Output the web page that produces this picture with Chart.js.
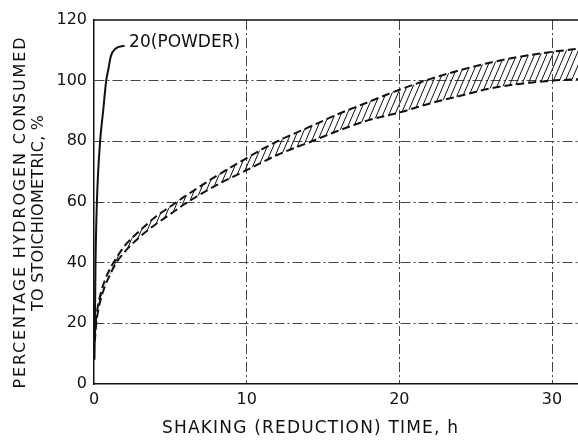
<!DOCTYPE html>
<html>
<head>
<meta charset="utf-8">
<script src="https://cdn.jsdelivr.net/npm/chart.js@4/dist/chart.umd.min.js"></script>
<style>
  html, body { margin: 0; padding: 0; background: #fff; }
  #wrap { width: 578px; height: 441px; }
</style>
</head>
<body>
<div id="wrap"><canvas id="chart" width="578" height="441"></canvas></div>
<script>
// powder sample (curve "20")
const powderTime = [0.03, 0.06, 0.1, 0.19, 0.4, 0.6, 0.8, 0.95, 1.1, 1.4, 2.0];
const powderPct = [8, 20, 40, 60, 80, 90, 100, 104, 108, 110.5, 111.5];

// hatched band: upper and lower edges
const bandTime = [0.05, 0.15, 0.35, 0.7, 1, 1.4, 2, 3, 4, 5, 6, 8, 10, 12, 14, 16, 18, 20, 22, 24, 26, 28, 30, 31.7];
const bandUpper = [16, 22, 28, 34, 37.5, 41, 45.5, 50.5, 55, 58.5, 62, 68.5, 74.5, 80, 84.5, 89, 93, 97, 100.5, 103.5, 106, 108, 109.5, 110.5];
const bandLower = [14, 20, 26, 32, 35.5, 39.5, 43.5, 48.5, 52.5, 56, 59.5, 65.5, 70.5, 75.5, 79.5, 83.5, 87, 89.5, 92.5, 95, 97.5, 99, 100, 100.5];

const yTicks = [0, 20, 40, 60, 80, 100, 120];
const xTicks = [0, 10, 20, 30];

const powderLabel = '20(POWDER)';
const xTitle = 'SHAKING (REDUCTION) TIME, h';
const yTitle1 = 'PERCENTAGE HYDROGEN CONSUMED';
const yTitle2 = 'TO STOICHIOMETRIC, %';

const toPoints = (xs, ys) => xs.map((x, i) => ({ x: x, y: ys[i] }));

// diagonal hatch used between the two dashed curves
function hatch() {
    const w = 6, h = 14;
    const c = document.createElement('canvas');
    c.width = w; c.height = h;
    const g = c.getContext('2d');
    g.strokeStyle = '#111';
    g.lineWidth = 1;
    for (const dx of [-w, 0, w]) {
        g.beginPath();
        g.moveTo(dx, h);
        g.lineTo(dx + w, 0);
        g.stroke();
    }
    return g.createPattern(c, 'repeat');
}

function spacedText(ctx, text, x, y, width) {
    ctx.letterSpacing = '0px';
    const w = ctx.measureText(text).width;
    const sp = Math.max(0, (width - w) / (text.length - 1));
    ctx.letterSpacing = sp + 'px';
    ctx.fillText(text, x + sp / 2, y);
    ctx.letterSpacing = '0px';
}

const textPlugin = {
    id: 'texts',
    afterDraw(chart) {
        const { ctx, chartArea, scales } = chart;
        ctx.save();
        // solid frame line at 120
        ctx.strokeStyle = '#111';
        ctx.lineWidth = 1.5;
        ctx.beginPath();
        ctx.moveTo(chartArea.left, chartArea.top);
        ctx.lineTo(chartArea.right, chartArea.top);
        ctx.stroke();

        ctx.fillStyle = '#111';
        ctx.textAlign = 'center';
        ctx.textBaseline = 'middle';
        ctx.font = '17px "DejaVu Sans"';
        spacedText(ctx, xTitle, 310, 429, 296);

        ctx.font = '16px "DejaVu Sans"';
        ctx.save();
        ctx.translate(21, 213);
        ctx.rotate(-Math.PI / 2);
        spacedText(ctx, yTitle1, 0, 0, 351);
        ctx.restore();
        ctx.save();
        ctx.translate(39, 213);
        ctx.rotate(-Math.PI / 2);
        spacedText(ctx, yTitle2, 0, 0, 196);
        ctx.restore();

        // label on the powder curve
        ctx.textAlign = 'left';
        ctx.font = '17px "DejaVu Sans"';
        const lx = scales.x.getPixelForValue(2.3);
        const ly = scales.y.getPixelForValue(112.5);
        ctx.fillText(powderLabel, lx, ly);
        ctx.restore();
    }
};

const gridStyle = {
    color: '#444',
    lineWidth: 1,
    drawTicks: false
};

new Chart(document.getElementById('chart'), {
    type: 'line',
    data: {
        datasets: [{
            label: 'upper',
            data: toPoints(bandTime, bandUpper),
            borderColor: '#111',
            borderWidth: 2,
            borderDash: [8, 4],
            backgroundColor: hatch(),
            fill: '+1',
            pointRadius: 0,
            cubicInterpolationMode: 'monotone'
        },
        {
            label: 'lower',
            data: toPoints(bandTime, bandLower),
            borderColor: '#111',
            borderWidth: 2,
            borderDash: [8, 4],
            fill: false,
            pointRadius: 0,
            cubicInterpolationMode: 'monotone'
        },
        {
            label: 'powder',
            data: toPoints(powderTime, powderPct),
            borderColor: '#111',
            borderWidth: 2,
            fill: false,
            pointRadius: 0,
            cubicInterpolationMode: 'monotone'
        }]
    },
    options: {
        responsive: false,
        animation: false,
        devicePixelRatio: 1,
        layout: { padding: { top: 20, right: 0, left: 0, bottom: 0 } },
        plugins: {
            legend: { display: false },
            tooltip: { enabled: false }
        },
        scales: {
            x: {
                type: 'linear',
                min: 0,
                max: 31.7,
                afterFit: s => { s.height = 57; },
                afterBuildTicks: s => { s.ticks = xTicks.map(v => ({ value: v })); },
                ticks: {
                    includeBounds: false,
                    padding: 6,
                    color: '#111',
                    font: { family: 'DejaVu Sans', size: 16 }
                },
                grid: Object.assign({}, gridStyle, {
                    color: c => c.tick && c.tick.value === 0 ? 'rgba(0,0,0,0)' : '#444'
                }),
                border: { display: true, color: '#111', width: 1.5, dash: [10, 3, 2, 3] }
            },
            y: {
                min: 0,
                max: 120,
                afterFit: s => { s.width = 94; },
                afterBuildTicks: s => { s.ticks = yTicks.map(v => ({ value: v })); },
                ticks: {
                    padding: 7,
                    color: '#111',
                    font: { family: 'DejaVu Sans', size: 16 }
                },
                grid: Object.assign({}, gridStyle, {
                    color: c => c.tick && (c.tick.value === 0 || c.tick.value === 120) ? 'rgba(0,0,0,0)' : '#444'
                }),
                border: { display: true, color: '#111', width: 1.5, dash: [10, 3, 2, 3] }
            }
        }
    },
    plugins: [textPlugin]
});
</script>
</body>
</html>
